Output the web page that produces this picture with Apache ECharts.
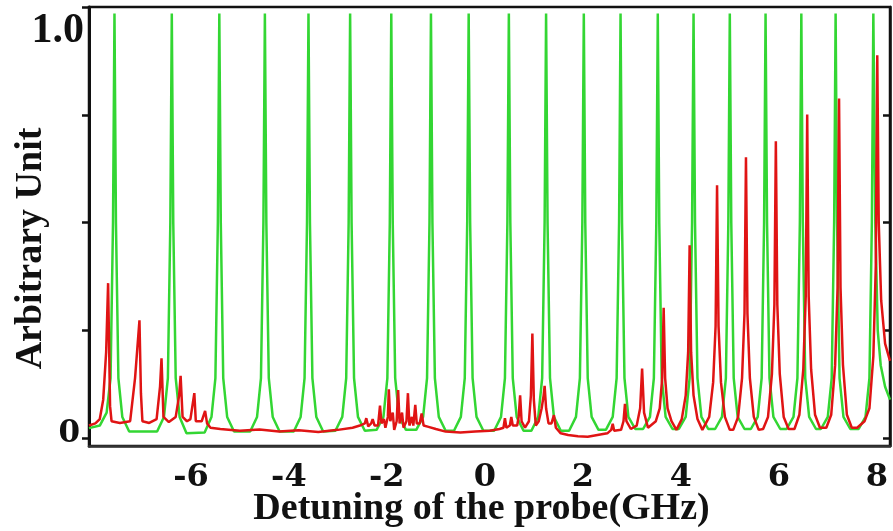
<!DOCTYPE html>
<html>
<head>
<meta charset="utf-8">
<style>
  html, body { margin: 0; padding: 0; background: #fff; }
  #chart { width: 893px; height: 531px; }
</style>
<script src="https://cdn.jsdelivr.net/npm/echarts@6/dist/echarts.min.js"></script>
</head>
<body>
<div id="chart"></div>
<script>
// Probe detuning axis (GHz) and amplitude axis (arbitrary unit)
const xRange = [-8.08, 8.27];
const yRange = [-0.0174, 1.0];
const xTickLabels = [-6, -4, -2, 0, 2, 4, 6, 8];
const yTickMarks = [0, 0.25, 0.5, 0.75, 1.0];
const yTickLabels = [0, 1.0];

// Green trace: reference comb transmission, [detuning GHz, amplitude]
const greenTrace = [
  [-8.08, 0.024],
  [-7.86, 0.030], [-7.72, 0.06], [-7.64, 0.14], [-7.59, 0.50], [-7.56, 0.985], [-7.53, 0.50], [-7.48, 0.14], [-7.40, 0.05], [-7.26, 0.016],
  [-6.69, 0.016], [-6.55, 0.05], [-6.47, 0.14], [-6.42, 0.50], [-6.39, 0.985], [-6.36, 0.50], [-6.31, 0.14], [-6.23, 0.05], [-6.09, 0.012],
  [-5.72, 0.014], [-5.58, 0.05], [-5.50, 0.14], [-5.45, 0.50], [-5.42, 0.985], [-5.39, 0.50], [-5.34, 0.14], [-5.26, 0.05], [-5.12, 0.016],
  [-4.79, 0.016], [-4.65, 0.05], [-4.57, 0.14], [-4.52, 0.50], [-4.49, 0.985], [-4.46, 0.50], [-4.41, 0.14], [-4.33, 0.05], [-4.19, 0.016],
  [-3.90, 0.016], [-3.76, 0.05], [-3.68, 0.14], [-3.63, 0.50], [-3.60, 0.985], [-3.57, 0.50], [-3.52, 0.14], [-3.44, 0.05], [-3.30, 0.016],
  [-3.05, 0.018], [-2.91, 0.05], [-2.83, 0.14], [-2.78, 0.50], [-2.75, 0.985], [-2.72, 0.50], [-2.67, 0.14], [-2.59, 0.05], [-2.45, 0.018],
  [-2.21, 0.020], [-2.07, 0.05], [-1.99, 0.14], [-1.94, 0.50], [-1.91, 0.985], [-1.88, 0.50], [-1.83, 0.14], [-1.75, 0.05], [-1.61, 0.020],
  [-1.40, 0.020], [-1.26, 0.05], [-1.18, 0.14], [-1.13, 0.50], [-1.10, 0.985], [-1.07, 0.50], [-1.02, 0.14], [-0.94, 0.05], [-0.80, 0.018],
  [-0.63, 0.018], [-0.49, 0.05], [-0.41, 0.14], [-0.36, 0.50], [-0.33, 0.985], [-0.30, 0.50], [-0.25, 0.14], [-0.17, 0.05], [-0.03, 0.018],
  [0.19, 0.018], [0.33, 0.05], [0.41, 0.14], [0.46, 0.50], [0.49, 0.985], [0.52, 0.50], [0.57, 0.14], [0.65, 0.05], [0.79, 0.018],
  [0.95, 0.018], [1.09, 0.05], [1.17, 0.14], [1.22, 0.50], [1.25, 0.985], [1.28, 0.50], [1.33, 0.14], [1.41, 0.05], [1.55, 0.018],
  [1.72, 0.018], [1.86, 0.05], [1.94, 0.14], [1.99, 0.50], [2.02, 0.985], [2.05, 0.50], [2.10, 0.14], [2.18, 0.05], [2.32, 0.020],
  [2.47, 0.020], [2.61, 0.05], [2.69, 0.14], [2.74, 0.50], [2.77, 0.985], [2.80, 0.50], [2.85, 0.14], [2.93, 0.05], [3.07, 0.022],
  [3.23, 0.022], [3.37, 0.05], [3.45, 0.14], [3.50, 0.50], [3.53, 0.985], [3.56, 0.50], [3.61, 0.14], [3.69, 0.05], [3.83, 0.022],
  [3.96, 0.022], [4.10, 0.05], [4.18, 0.14], [4.23, 0.50], [4.26, 0.985], [4.29, 0.50], [4.34, 0.14], [4.42, 0.05], [4.56, 0.022],
  [4.70, 0.022], [4.84, 0.05], [4.92, 0.14], [4.97, 0.50], [5.00, 0.985], [5.03, 0.50], [5.08, 0.14], [5.16, 0.05], [5.30, 0.022],
  [5.43, 0.022], [5.57, 0.05], [5.65, 0.14], [5.70, 0.50], [5.73, 0.985], [5.76, 0.50], [5.81, 0.14], [5.89, 0.05], [6.03, 0.022],
  [6.16, 0.022], [6.30, 0.05], [6.38, 0.14], [6.43, 0.50], [6.46, 0.985], [6.49, 0.50], [6.54, 0.14], [6.62, 0.05], [6.76, 0.022],
  [6.86, 0.022], [7.00, 0.05], [7.08, 0.14], [7.13, 0.50], [7.16, 0.985], [7.19, 0.50], [7.24, 0.14], [7.32, 0.05], [7.46, 0.022],
  [7.63, 0.022], [7.77, 0.05], [7.85, 0.14], [7.90, 0.50], [7.93, 0.985], [7.97, 0.50], [8.02, 0.25], [8.08, 0.17], [8.17, 0.12], [8.27, 0.09]
];

// Red trace: probe transmission, [detuning GHz, amplitude]
const redTrace = [
  [-8.08, 0.030], [-7.95, 0.035], [-7.86, 0.045], [-7.79, 0.09], [-7.73, 0.20], [-7.69, 0.36], [-7.65, 0.075], [-7.62, 0.040], [-7.45, 0.036],
  [-7.24, 0.040], [-7.14, 0.14], [-7.05, 0.274], [-7.02, 0.105], [-6.99, 0.040], [-6.85, 0.036],
  [-6.70, 0.045], [-6.63, 0.12], [-6.60, 0.186], [-6.56, 0.050], [-6.45, 0.038],
  [-6.31, 0.050], [-6.24, 0.10], [-6.21, 0.145], [-6.17, 0.050], [-6.08, 0.040],
  [-6.01, 0.045], [-5.93, 0.105], [-5.90, 0.040], [-5.78, 0.040], [-5.71, 0.064], [-5.67, 0.035],
  [-5.60, 0.025], [-5.40, 0.022], [-5.00, 0.018], [-4.60, 0.021], [-4.20, 0.016], [-3.80, 0.019],
  [-3.40, 0.015], [-3.00, 0.020], [-2.70, 0.025], [-2.55, 0.030],
  [-2.45, 0.035], [-2.42, 0.047], [-2.38, 0.028], [-2.32, 0.035], [-2.29, 0.045], [-2.25, 0.030],
  [-2.18, 0.030], [-2.14, 0.076], [-2.11, 0.035], [-2.06, 0.045], [-2.03, 0.025], [-1.98, 0.050],
  [-1.96, 0.114], [-1.93, 0.040], [-1.88, 0.060], [-1.85, 0.020], [-1.80, 0.040], [-1.77, 0.112],
  [-1.74, 0.035], [-1.69, 0.060], [-1.66, 0.025], [-1.60, 0.040], [-1.57, 0.105], [-1.54, 0.030],
  [-1.49, 0.050], [-1.46, 0.030], [-1.42, 0.078], [-1.39, 0.035], [-1.33, 0.035], [-1.29, 0.058],
  [-1.25, 0.030], [-1.15, 0.027], [-1.00, 0.022], [-0.80, 0.016], [-0.50, 0.014], [-0.20, 0.016],
  [0.10, 0.018], [0.30, 0.022],
  [0.38, 0.025], [0.41, 0.047], [0.44, 0.025], [0.51, 0.030], [0.54, 0.050], [0.57, 0.030],
  [0.66, 0.030], [0.69, 0.050], [0.72, 0.100], [0.75, 0.040], [0.82, 0.025], [0.90, 0.040],
  [0.94, 0.100], [0.97, 0.243], [1.00, 0.090], [1.04, 0.030], [1.10, 0.040], [1.16, 0.070],
  [1.20, 0.100], [1.22, 0.122], [1.25, 0.070], [1.30, 0.035], [1.36, 0.035], [1.41, 0.054],
  [1.45, 0.025], [1.55, 0.012], [1.70, 0.008], [1.90, 0.005], [2.10, 0.004], [2.30, 0.008], [2.50, 0.012],
  [2.58, 0.020], [2.61, 0.034], [2.64, 0.018], [2.78, 0.020], [2.83, 0.040], [2.86, 0.080], [2.89, 0.040],
  [2.98, 0.022], [3.10, 0.030], [3.17, 0.070], [3.21, 0.162], [3.25, 0.060], [3.33, 0.025],
  [3.49, 0.040], [3.57, 0.070], [3.62, 0.14], [3.65, 0.303], [3.68, 0.14], [3.73, 0.070], [3.81, 0.040], [3.91, 0.020],
  [4.02, 0.045], [4.10, 0.10], [4.15, 0.20], [4.18, 0.448], [4.21, 0.20], [4.26, 0.10], [4.34, 0.045], [4.44, 0.020],
  [4.58, 0.050], [4.66, 0.13], [4.71, 0.26], [4.74, 0.587], [4.77, 0.26], [4.82, 0.13], [4.90, 0.050], [5.00, 0.020],
  [5.07, 0.020], [5.17, 0.050], [5.25, 0.14], [5.30, 0.29], [5.33, 0.652], [5.36, 0.29], [5.41, 0.14], [5.49, 0.050], [5.59, 0.020],
  [5.68, 0.022], [5.78, 0.050], [5.86, 0.15], [5.91, 0.31], [5.94, 0.689], [5.97, 0.31], [6.02, 0.15], [6.10, 0.050], [6.20, 0.022],
  [6.32, 0.022], [6.42, 0.055], [6.50, 0.16], [6.55, 0.33], [6.58, 0.751], [6.61, 0.33], [6.66, 0.16], [6.74, 0.055], [6.84, 0.025],
  [6.97, 0.025], [7.07, 0.055], [7.15, 0.17], [7.20, 0.35], [7.23, 0.788], [7.26, 0.35], [7.31, 0.17], [7.39, 0.055], [7.49, 0.025],
  [7.60, 0.025], [7.75, 0.040], [7.85, 0.070], [7.93, 0.19], [7.98, 0.40], [8.01, 0.888], [8.04, 0.50], [8.09, 0.32], [8.17, 0.22], [8.27, 0.18]
];

const tickFont = 'DejaVu Serif';
const titleFont = 'Liberation Serif';

const chart = echarts.init(document.getElementById('chart'), null, { renderer: 'canvas' });

chart.setOption({
  animation: false,
  backgroundColor: '#ffffff',
  grid: {
    left: 89, right: 3, top: 7, bottom: 85,
    outerBoundsMode: 'none',
    containLabel: false,
    show: true, borderColor: '#111', borderWidth: 2.5, backgroundColor: 'transparent'
  },
  xAxis: {
    type: 'value',
    min: xRange[0], max: xRange[1],
    name: 'Detuning of the probe(GHz)',
    nameLocation: 'middle',
    nameGap: 44,
    nameMoveOverlap: false,
    nameTextStyle: {
      fontFamily: titleFont, fontWeight: 'bold', fontSize: 38, color: '#111',
      padding: [0, 16, 0, 0]
    },
    axisLine: { show: true, onZero: false, lineStyle: { color: '#333', width: 2.5 } },
    axisTick: { show: false },
    splitLine: { show: false },
    axisLabel: {
      customValues: xTickLabels,
      margin: 16,
      fontFamily: tickFont, fontWeight: 'bold', fontSize: 32, color: '#111'
    }
  },
  yAxis: [
    {
      type: 'value',
      position: 'left',
      min: yRange[0], max: yRange[1],
      name: 'Arbitrary Unit',
      nameLocation: 'middle',
      nameGap: 39,
      nameMoveOverlap: false,
      nameRotate: 90,
      nameTextStyle: {
        fontFamily: titleFont, fontWeight: 'bold', fontSize: 38, color: '#111',
        padding: [0, 44, 0, 0]
      },
      axisLine: { show: true, onZero: false, lineStyle: { color: '#111', width: 3 } },
      axisTick: { show: true, customValues: yTickMarks, length: 7, inside: false, lineStyle: { color: '#111', width: 2.5 } },
      splitLine: { show: false },
      axisLabel: {
        customValues: yTickLabels,
        margin: 5,
        formatter: function (v) { return v === 0 ? '{z|0}' : '{o|1.0}'; },
        rich: {
          z: { fontFamily: tickFont, fontWeight: 'bold', fontSize: 31, color: '#111', padding: [0, 4, 10, 0] },
          o: { fontFamily: titleFont, fontWeight: 'bold', fontSize: 42, color: '#111', padding: [48, 0, 0, 0] }
        }
      }
    },
    {
      type: 'value',
      position: 'right',
      min: yRange[0], max: yRange[1],
      axisLine: { show: true, onZero: false, lineStyle: { color: '#111', width: 2.5 } },
      axisTick: { show: true, customValues: [0, 0.25, 0.5, 0.75], length: 7, inside: true, lineStyle: { color: '#111', width: 2.5 } },
      splitLine: { show: false },
      axisLabel: { show: false }
    }
  ],
  series: [
    {
      name: 'reference',
      type: 'line',
      data: greenTrace,
      showSymbol: false,
      smooth: false,
      lineStyle: { color: '#33d633', width: 2.5 },
      z: 2
    },
    {
      name: 'probe',
      type: 'line',
      data: redTrace,
      showSymbol: false,
      smooth: false,
      lineStyle: { color: '#e01414', width: 2.5 },
      z: 3
    }
  ]
});
</script>
</body>
</html>
